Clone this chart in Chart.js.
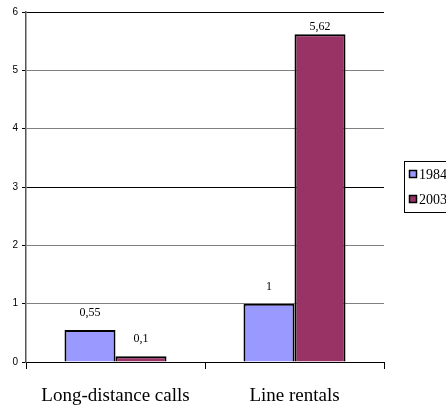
<!DOCTYPE html>
<html>
<head>
<meta charset="utf-8">
<script src="https://cdn.jsdelivr.net/npm/chart.js@4"></script>
<style>
  html, body { margin: 0; padding: 0; background: #fff; }
  #wrap { width: 446px; height: 408px; }
</style>
</head>
<body>
<div id="wrap"><canvas id="c" width="446" height="408"></canvas></div>
<script>
const categories = ["Long-distance calls", "Line rentals"];
const seriesNames = ["1984", "2003"];
const values1984 = [0.55, 1];
const values2003 = [0.1, 5.62];
const yTicks = [0, 1, 2, 3, 4, 5, 6];

const colors = ["#9999FF", "#993366"];
const serif = "'Liberation Serif', 'Times New Roman', serif";

// Writes each bar's value above it, using a comma as decimal separator
const valueLabels = {
  id: "valueLabels",
  afterDatasetsDraw(chart) {
    const ctx = chart.ctx;
    ctx.save();
    ctx.font = "12px " + serif;
    ctx.fillStyle = "#000";
    ctx.textAlign = "center";
    ctx.textBaseline = "middle";
    chart.data.datasets.forEach((ds, i) => {
      chart.getDatasetMeta(i).data.forEach((bar, j) => {
        const txt = String(ds.data[j]).replace(".", ",");
        const y = Math.max(bar.y - 17, chart.chartArea.top + 15);
        ctx.fillText(txt, bar.x, y);
      });
    });
    ctx.restore();
  }
};

// Boxed legend on the right side
const boxLegend = {
  id: "boxLegend",
  afterDraw(chart) {
    const ctx = chart.ctx;
    const x0 = 404, y0 = 161, w = 60, h = 51;
    ctx.save();
    ctx.strokeStyle = "#000";
    ctx.lineWidth = 1;
    ctx.strokeRect(x0 + 0.5, y0 + 0.5, w, h);
    ctx.font = "14px " + serif;
    ctx.textBaseline = "middle";
    chart.data.datasets.forEach((ds, i) => {
      const cy = y0 + 13 + i * 25;
      ctx.fillStyle = ds.backgroundColor;
      ctx.fillRect(x0 + 6, cy - 3, 6, 6);
      ctx.strokeStyle = "#000";
      ctx.lineWidth = 1.5;
      ctx.strokeRect(x0 + 5.5, cy - 3.5, 7, 7);
      ctx.fillStyle = "#000";
      ctx.fillText(ds.label, x0 + 15, cy + 1);
    });
    ctx.restore();
  }
};

new Chart(document.getElementById("c"), {
  type: "bar",
  data: {
    labels: categories,
    datasets: [
      { label: seriesNames[0], data: values1984, backgroundColor: colors[0], borderColor: "#000", borderWidth: 2 },
      { label: seriesNames[1], data: values2003, backgroundColor: colors[1], borderColor: "#000", borderWidth: 2 }
    ]
  },
  options: {
    responsive: false,
    animation: false,
    layout: { padding: { top: 12, right: 62, left: 0, bottom: 0 } },
    plugins: { legend: { display: false }, tooltip: { enabled: false } },
    datasets: { bar: { categoryPercentage: 0.57, barPercentage: 1.0 } },
    scales: {
      x: {
        grid: { offset: true, drawOnChartArea: false, color: "#000", tickLength: 7, tickWidth: 1 },
        border: { color: "#000", width: 1 },
        ticks: { color: "#000", padding: 16, font: { family: serif, size: 19 } },
        afterFit(scale) { scale.height = 46; }
      },
      y: {
        min: 0, max: 6,
        afterBuildTicks(scale) { scale.ticks = yTicks.map(v => ({ value: v })); },
        grid: {
          color: (c) => (c.tick && (c.tick.value === 6 || c.tick.value === 3 || c.tick.value === 0)) ? "#000" : "#808080",
          tickLength: 4,
          tickColor: "#000"
        },
        border: { color: "#555", width: 1.5 },
        ticks: { color: "#000", padding: 4, font: { family: "'Liberation Sans', Arial, sans-serif", size: 10 } },
        afterFit(scale) { scale.width = 26; }
      }
    }
  },
  plugins: [valueLabels, boxLegend]
});
</script>
</body>
</html>
